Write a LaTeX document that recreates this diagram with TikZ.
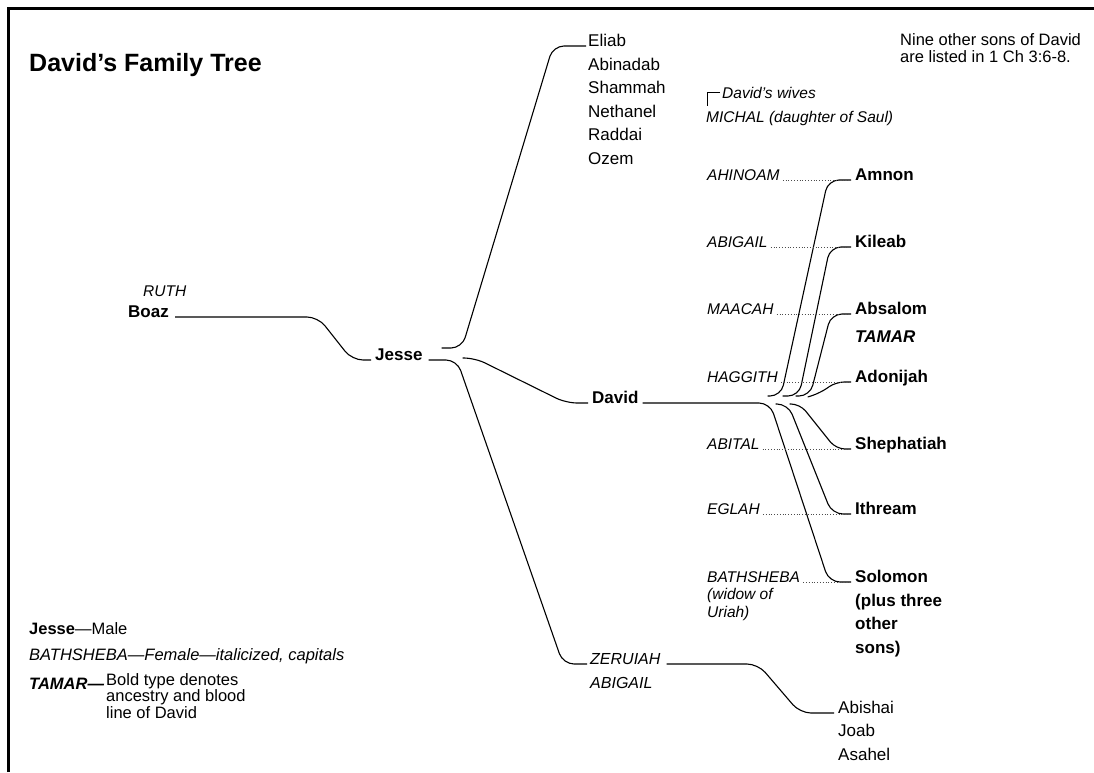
\documentclass[tikz,border=0pt]{standalone}
\usepackage{fontspec}
\setmainfont{Liberation Sans}
\begin{document}
\begin{tikzpicture}[x=1pt,y=-1pt,
  conn/.style={line width=1.1pt, rounded corners=11pt},
  dots/.style={line width=0.8pt, dash pattern=on 0.8pt off 2pt, black!70},
  male/.style={font=\fontsize{17}{23.5}\selectfont\bfseries, inner sep=0pt, anchor=base west, align=left},
  plain/.style={font=\fontsize{17}{23.5}\selectfont, inner sep=0pt, anchor=base west, align=left},
  wife/.style={font=\fontsize{15.5}{17.5}\selectfont\itshape, inner sep=0pt, anchor=base west, align=left},
  daughter/.style={font=\fontsize{16}{20}\selectfont\itshape, inner sep=0pt, anchor=base west},
  note/.style={font=\fontsize{16.5}{17}\selectfont, inner sep=0pt, anchor=base west, align=left},
  legend/.style={font=\fontsize{16.5}{14.5}\selectfont, inner sep=0pt, anchor=base west, align=left},
]
\useasboundingbox (0,0) rectangle (1094,772);
\draw[line width=2.7pt] (8.5,772) -- (8.5,8.5) -- (1094,8.5);

% title
\node[font=\fontsize{25}{30}\selectfont\bfseries, inner sep=0pt, anchor=base west] (title) at (29,71) {David’s Family Tree};

% ancestry
\node[wife] (ruth) at (143,296) {RUTH};
\node[male] (boaz) at (128,317) {Boaz};
\node[male] (jesse) at (375,360) {Jesse};

% Jesse's sons
\node[plain] (eliab) at (588,46) {Eliab};
\node[plain] (abinadab) at (588,70) {Abinadab};
\node[plain] (shammah) at (588,93) {Shammah};
\node[plain] (nethanel) at (588,117) {Nethanel};
\node[plain] (raddai) at (588,140) {Raddai};
\node[plain] (ozem) at (588,164) {Ozem};
\node[male] (david) at (592,403) {David};
\node[daughter] (zeruiah) at (590,664) {ZERUIAH};
\node[daughter] (abigailj) at (590,688) {ABIGAIL};

% Zeruiah's sons
\node[plain] (abishai) at (838,713) {Abishai};
\node[plain] (joab) at (838,736) {Joab};
\node[plain] (asahel) at (838,760) {Asahel};

% note (anchored on its last line)
\node[note] (nine) at (900,62) {Nine other sons of David\\are listed in 1 Ch 3:6-8.};

% David's wives
\node[wife] (wives) at (722,98) {David’s wives};
\node[wife] (michal) at (706,122) {MICHAL (daughter of Saul)};
\node[wife] (ahinoam) at (707,180) {AHINOAM};
\node[wife] (abigail) at (707,247) {ABIGAIL};
\node[wife] (maacah) at (707,314) {MAACAH};
\node[wife] (haggith) at (707,382) {HAGGITH};
\node[wife] (abital) at (707,449) {ABITAL};
\node[wife] (eglah) at (707,514) {EGLAH};
\node[wife] (bathsheba) at (707,582) {BATHSHEBA};
\node[wife] (widow) at (707,617) {(widow of\\Uriah)};

% David's sons
\node[male] (amnon) at (855,180) {Amnon};
\node[male] (kileab) at (855,247) {Kileab};
\node[male] (absalom) at (855,314) {Absalom};
\node[male, font=\fontsize{17}{23.5}\selectfont\bfseries\itshape] (tamar) at (855,342) {TAMAR};
\node[male] (adonijah) at (855,382) {Adonijah};
\node[male] (shephatiah) at (855,449) {Shephatiah};
\node[male] (ithream) at (855,514) {Ithream};
\node[male] (solomon) at (855,582) {Solomon};
\node[male] (plus) at (855,653) {(plus three\\other\\sons)};

% legend
\node[legend] (lgjesse) at (29,634) {\textbf{Jesse}—Male};
\node[legend] (lgbath) at (29,660) {\itshape BATHSHEBA—Female—italicized, capitals};
\node[legend] (lgtamar) at (29,689) {\bfseries\itshape TAMAR—};
\node[legend] (lgtext) at (106,718) {Bold type denotes\\ancestry and blood\\line of David};

% connectors
\draw[conn] ([xshift=6pt]boaz.base east) -- (318,317) -- (352,360) -- ([xshift=-4pt]jesse.base west);
\draw[conn] ([xshift=6pt]jesse.base east) -- (457,360) -- (563,664) -- ([xshift=-3pt]zeruiah.base west);
\draw[conn] ([shift={(19,-12)}]jesse.base east) -- (462,348) -- (553,46) -- ([xshift=-2pt]eliab.base west);
\draw[conn] ([shift={(40,-2)}]jesse.base east) -- (475,358) -- (566,403) -- ([xshift=-4pt]david.base west);
\draw[conn] ([xshift=6pt]zeruiah.base east) -- (758,664) -- (800,713) -- ([xshift=-4pt]abishai.base west);

\draw[conn] ([xshift=4pt]david.base east) -- (770,403) -- (829,582) -- ([xshift=-4pt]solomon.base west);
\draw[conn] ([shift={(137,1)}]david.base east) -- (788,404) -- (832,514) -- ([xshift=-4pt]ithream.base west);
\draw[conn, rounded corners=9pt] ([shift={(151,1)}]david.base east) -- (800,404) -- (836,449) -- ([xshift=-4pt]shephatiah.base west);
\draw[conn] ([shift={(129,-7)}]david.base east) -- (781,396) -- (828,180) -- ([xshift=-4pt]amnon.base west);
\draw[conn] ([shift={(144,-7)}]david.base east) -- (799,396) -- (830,247) -- ([xshift=-4pt]kileab.base west);
\draw[conn] ([shift={(157,-7)}]david.base east) -- (810,396) -- (831,314) -- ([xshift=-4pt]absalom.base west);
\draw[conn, rounded corners=8pt] ([shift={(169,-6)}]david.base east) -- (820,393) -- (836,382) -- ([xshift=-4pt]adonijah.base west);

% dotted wife lines
\draw[dots] ([xshift=3pt]ahinoam.base east) -- ([xshift=-6pt]amnon.base west);
\draw[dots] ([xshift=3pt]abigail.base east) -- ([xshift=-6pt]kileab.base west);
\draw[dots] ([xshift=3pt]maacah.base east) -- ([xshift=-6pt]absalom.base west);
\draw[dots] ([xshift=3pt]haggith.base east) -- ([xshift=-6pt]adonijah.base west);
\draw[dots] ([xshift=3pt]abital.base east) -- ([xshift=-6pt]shephatiah.base west);
\draw[dots] ([xshift=3pt]eglah.base east) -- ([xshift=-6pt]ithream.base west);
\draw[dots] ([xshift=3pt]bathsheba.base east) -- ([xshift=-6pt]solomon.base west);

% bracket for David's wives
\draw[line width=0.7pt] ([xshift=-2pt]wives.west) -| ([shift={(1,-16)}]michal.base west);
\end{tikzpicture}
\end{document}
